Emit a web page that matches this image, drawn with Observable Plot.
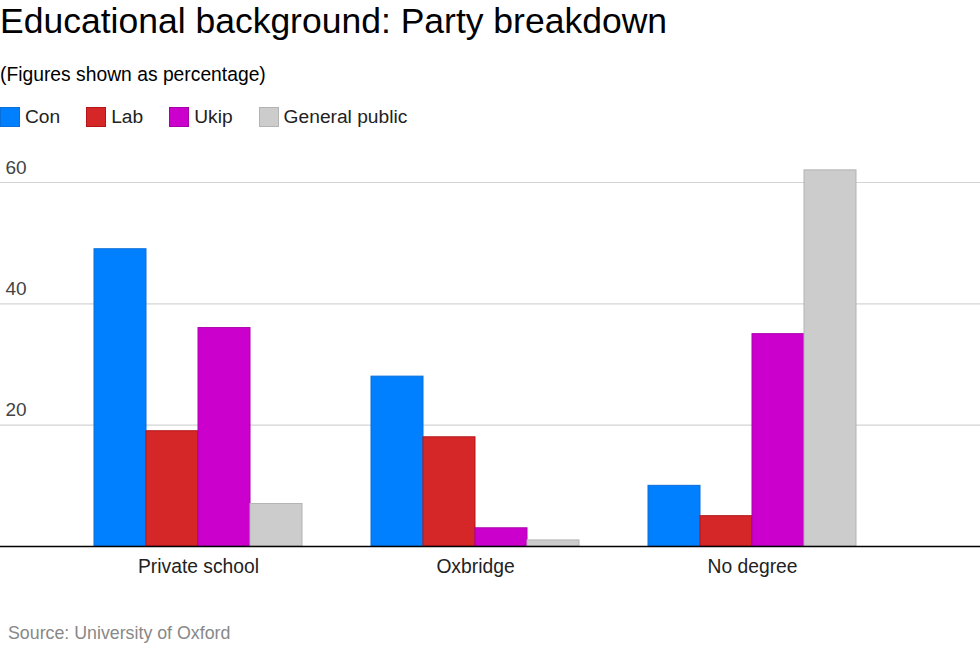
<!DOCTYPE html>
<html><head><meta charset="utf-8">
<script src="https://cdn.jsdelivr.net/npm/d3@7"></script>
<script src="https://cdn.jsdelivr.net/npm/@observablehq/plot@0.6"></script>
<style>
body{margin:0;background:#fff;font-family:"Liberation Sans",Arial,sans-serif;width:980px;height:653px;overflow:hidden;position:relative}
#title{position:absolute;left:0;top:1px;font-size:35.5px;line-height:40px;color:#000;white-space:nowrap}
#subtitle{position:absolute;left:0;top:65px;font-size:19.3px;line-height:20px;color:#000;white-space:nowrap}
#legend{position:absolute;left:0;top:107px;height:20px;display:flex;align-items:center;font-size:19.2px;color:#222}
.item{display:flex;align-items:center;margin-right:26px}
.sw{width:20px;height:20px;box-sizing:border-box;margin-right:5px;border:1px solid}
#chart{position:absolute;left:0;top:140px}
#source{position:absolute;left:8px;top:623px;font-size:17.8px;line-height:20px;color:#888;white-space:nowrap}
</style>
</head><body>
<div id="title">Educational background: Party breakdown</div>
<div id="subtitle">(Figures shown as percentage)</div>
<div id="legend"></div>
<div id="chart"></div>
<div id="source">Source: University of Oxford</div>
<script>
const categories = ["Private school", "Oxbridge", "No degree"];
const parties = ["Con", "Lab", "Ukip", "General public"];
const con = [49, 28, 10];
const lab = [19, 18, 5];
const ukip = [36, 3, 35];
const general = [7, 1, 62];
const yTicks = [20, 40, 60];
const colors = ["#0080ff", "#d62728", "#cc00cc", "#cccccc"];
const strokes = ["#0a6fd8", "#b5151a", "#a800a8", "#b3b3b3"];

const series = [con, lab, ukip, general];
const data = parties.flatMap((p, j) => categories.map((c, i) => ({category: c, party: p, value: series[j][i]})));

// legend
const legend = document.getElementById("legend");
parties.forEach((p, j) => {
  const it = document.createElement("div");
  it.className = "item";
  const sw = document.createElement("div");
  sw.className = "sw";
  sw.style.background = colors[j];
  sw.style.borderColor = strokes[j];
  const t = document.createElement("span");
  t.textContent = p;
  it.appendChild(sw); it.appendChild(t);
  legend.appendChild(it);
});

const barW = 52;
const chart = Plot.plot({
  width: 980,
  height: 460,
  marginLeft: 0,
  marginRight: 0,
  marginTop: 42,
  marginBottom: 54,
  style: {fontFamily: "Liberation Sans, Arial, sans-serif", background: "#fff"},
  x: {type: "band", domain: categories, range: [171, 778], paddingInner: 0.8125, paddingOuter: 0, label: null},
  y: {domain: [0, 60], label: null},
  marks: [
    Plot.ruleY(yTicks, {stroke: "#d4d4d4", strokeWidth: 1.2}),
    ...parties.map((p, j) => Plot.barY(data.filter(d => d.party === p), {
      x: "category", y: "value", fill: colors[j], stroke: strokes[j], strokeWidth: 1, dx: (j - 1.5) * barW
    })),
    Plot.ruleY([0], {stroke: "#000", strokeWidth: 1.4}),
    Plot.axisY(yTicks, {anchor: "left", tickSize: 0, tickPadding: 0, textAnchor: "start", dx: 5, dy: -15, fontSize: 19, fill: "#444", label: null}),
    Plot.axisX({anchor: "bottom", tickSize: 0, tickPadding: 13, fontSize: 19.3, fill: "#222", label: null})
  ]
});
document.getElementById("chart").appendChild(chart);
</script>
</body></html>
